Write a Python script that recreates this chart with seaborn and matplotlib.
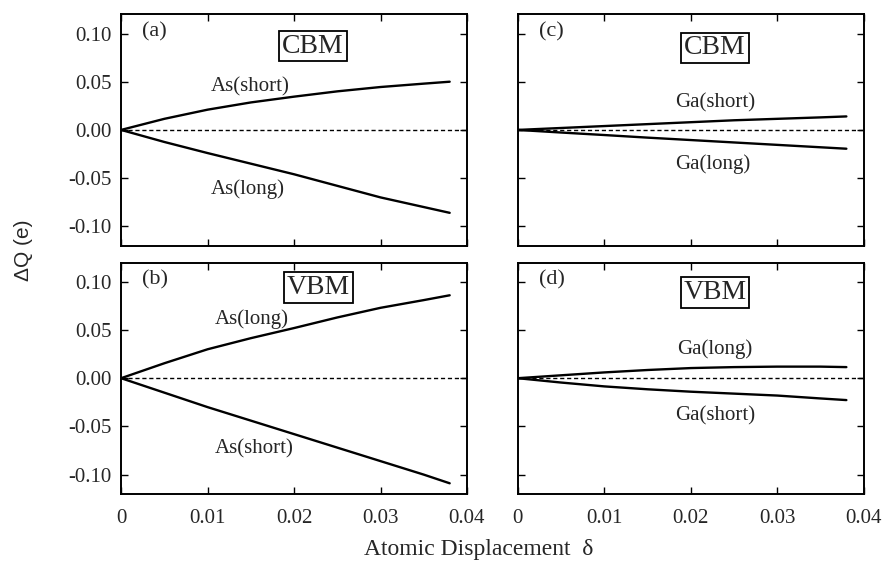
import numpy as np
import pandas as pd
import matplotlib
matplotlib.use('Agg')
import matplotlib.pyplot as plt
import seaborn as sns

# displacement values (x)
delta = [0, 0.005, 0.01, 0.015, 0.02, 0.025, 0.03, 0.035, 0.038]

# charge changes
as_cbm_short = [0, 0.0115, 0.021, 0.0285, 0.0345, 0.040, 0.0445, 0.048, 0.050]
as_cbm_long = [0, -0.0125, -0.024, -0.035, -0.046, -0.058, -0.070, -0.080, -0.086]
as_vbm_long = [0, 0.0155, 0.030, 0.0415, 0.052, 0.063, 0.073, 0.081, 0.086]
as_vbm_short = [0, -0.015, -0.030, -0.044, -0.058, -0.072, -0.086, -0.100, -0.109]
ga_cbm_short = [0, 0.002, 0.004, 0.006, 0.008, 0.010, 0.0115, 0.013, 0.014]
ga_cbm_long = [0, -0.0027, -0.0053, -0.008, -0.0105, -0.013, -0.0155, -0.018, -0.0195]
ga_vbm_long = [0, 0.003, 0.006, 0.0085, 0.0105, 0.0115, 0.012, 0.012, 0.0115]
ga_vbm_short = [0, -0.0045, -0.0085, -0.0115, -0.014, -0.016, -0.018, -0.021, -0.0227]

x_ticks = [0, 0.01, 0.02, 0.03, 0.04]
x_ticklabels = ['0', '0.01', '0.02', '0.03', '0.04']
y_ticks = [0.10, 0.05, 0.00, -0.05, -0.10]
y_ticklabels = ['0.10', '0.05', '0.00', '-0.05', '-0.10']

sns.set_theme(style='ticks')
plt.rcParams['font.family'] = ['Liberation Serif', 'DejaVu Serif']

fig, axes = plt.subplots(2, 2, figsize=(8.84, 5.69), dpi=100)
plt.subplots_adjust(left=0.137, right=0.977, top=0.975, bottom=0.132,
                    wspace=0.147, hspace=0.073)

panels = [
    (axes[0, 0], '(a)', 'CBM', as_cbm_short, 'As(short)', as_cbm_long, 'As(long)',
     (0.0149, 0.045), (0.0147, -0.061), (0.0222, 0.087)),
    (axes[1, 0], '(b)', 'VBM', as_vbm_long, 'As(long)', as_vbm_short, 'As(short)',
     (0.0151, 0.061), (0.0154, -0.073), (0.0228, 0.094)),
    (axes[0, 1], '(c)', 'CBM', ga_cbm_short, 'Ga(short)', ga_cbm_long, 'Ga(long)',
     (0.0228, 0.028), (0.0225, -0.035), (0.0228, 0.085)),
    (axes[1, 1], '(d)', 'VBM', ga_vbm_long, 'Ga(long)', ga_vbm_short, 'Ga(short)',
     (0.0228, 0.030), (0.0228, -0.039), (0.0228, 0.089)),
]

for ax, tag, band, up, up_lab, dn, dn_lab, up_pos, dn_pos, band_pos in panels:
    ax.axhline(0, color='black', lw=1.0, ls=(0, (3, 2)))
    sns.lineplot(x=delta, y=up, ax=ax, color='black', lw=1.7)
    sns.lineplot(x=delta, y=dn, ax=ax, color='black', lw=1.7)
    ax.set_xlim(0, 0.04)
    ax.set_ylim(-0.12, 0.12)
    ax.set_xticks(x_ticks)
    ax.set_yticks(y_ticks)
    ax.tick_params(direction='in', top=True, right=True, length=5, width=1,
                   labelsize=15, color='black', pad=7)
    ax.tick_params(axis='x', pad=11)
    for s in ax.spines.values():
        s.set_linewidth(1.4)
        s.set_color('black')
    ax.text(0.0024, 0.102, tag, fontsize=16, va='center', ha='left')
    ax.text(band_pos[0], band_pos[1], band, fontsize=20, ha='center', va='center',
            bbox=dict(boxstyle='square,pad=0.1', fc='white', ec='black', lw=1.3))
    ax.text(up_pos[0], up_pos[1], up_lab, fontsize=15, ha='center', va='center')
    ax.text(dn_pos[0], dn_pos[1], dn_lab, fontsize=15, ha='center', va='center')

for ax in axes[0, :]:
    ax.set_xticklabels([])
for ax in axes[1, :]:
    ax.set_xticklabels(x_ticklabels)
for ax in axes[:, 0]:
    ax.set_yticklabels(y_ticklabels)
for ax in axes[:, 1]:
    ax.set_yticklabels([])

fig.text(0.542, 1 - 550 / 569, 'Atomic Displacement  δ', fontsize=17,
         ha='center', va='center')
fig.text(0.027, 1 - 250 / 569, 'ΔQ (e)', fontsize=15, rotation=90,
         ha='center', va='center', family=['Liberation Sans', 'DejaVu Sans'])

plt.savefig('out.png', dpi=100)
